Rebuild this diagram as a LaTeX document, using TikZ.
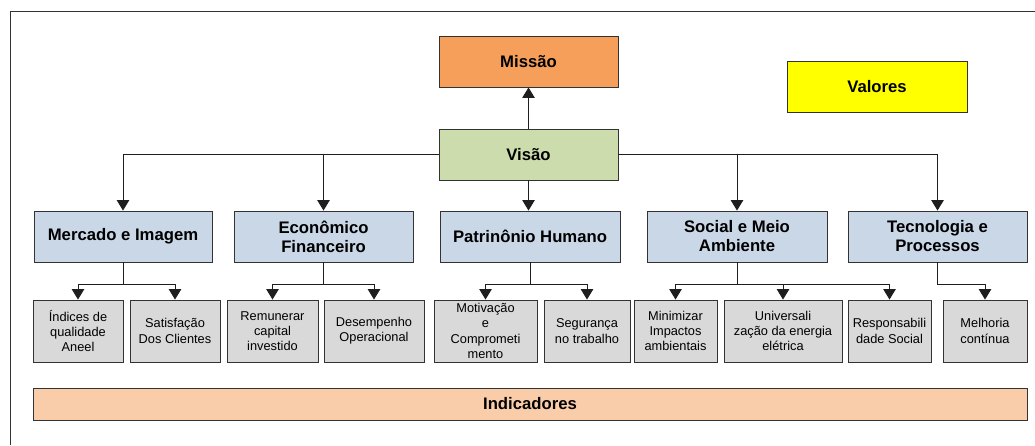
\documentclass[tikz,border=0pt]{standalone}
\usepackage{fontspec}
\setmainfont{Liberation Sans}
\usetikzlibrary{arrows.meta,shadows}

\definecolor{cmissao}{HTML}{F69F5B}
\definecolor{cvisao}{HTML}{CCDCAC}
\definecolor{cvalores}{HTML}{FFFF00}
\definecolor{ccat}{HTML}{C9D7E7}
\definecolor{csub}{HTML}{D9D9D9}
\definecolor{cind}{HTML}{F9CDAA}
\definecolor{cedge}{HTML}{333333}
\definecolor{cline}{HTML}{1E1E1E}

\tikzset{
  box/.style={draw=cedge, line width=0.9pt, inner sep=0pt, align=center,
    drop shadow={shadow xshift=0.8pt, shadow yshift=-0.8pt, fill=black!55, opacity=1}},
  bigbox/.style={box, font=\fontsize{16.7}{19}\selectfont\bfseries},
  subbox/.style={box, fill=csub, minimum height=62pt,
    font=\fontsize{12.8}{15.2}\selectfont},
  catbox/.style={bigbox, fill=ccat, minimum height=51pt},
  conn/.style={draw=cline, line width=1pt,
    -{Triangle[width=12.5pt,length=10.5pt]}},
}

\begin{document}
\begin{tikzpicture}[x=1pt,y=-1pt]
\useasboundingbox (0,0) rectangle (1035,445);
\fill[white] (0,0) rectangle (1035,445);

% outer frame
\draw[cedge, line width=0.9pt] (10,445) -- (10,11) -- (1035,11);

% top level
\node[bigbox, fill=cmissao, minimum width=179pt, minimum height=51pt] (missao) at (528.5,61.5) {Missão};
\node[bigbox, fill=cvisao, minimum width=179pt, minimum height=51pt] (visao) at (528.5,154.5) {Visão};
\node[bigbox, fill=cvalores, minimum width=180pt, minimum height=51pt] (valores) at (877,86.5) {Valores};

% perspectives
\node[catbox, minimum width=178pt] (merc) at (123,236.5) {Mercado e Imagem};
\node[catbox, minimum width=179pt] (econ) at (323.5,236.5) {Econômico\\Financeiro};
\node[catbox, minimum width=180pt] (patr) at (530,236.5) {Patrinônio Humano};
\node[catbox, minimum width=180pt] (soc) at (737,236.5) {Social e Meio\\Ambiente};
\node[catbox, minimum width=179pt] (tec) at (937.5,236.5) {Tecnologia e\\Processos};

% objectives
\node[subbox, minimum width=90pt] (ind) at (78,331) {Índices de\\qualidade\\Aneel};
\node[subbox, minimum width=90pt] (sat) at (175,331) {Satisfação\\Dos Clientes};
\node[subbox, minimum width=91pt] (rem) at (272.5,331) {Remunerar\\capital\\investido};
\node[subbox, minimum width=100pt] (des) at (374,331) {Desempenho\\Operacional};
\node[subbox, minimum width=103pt] (mot) at (485.5,331) {Motivação\\e\\Comprometi\\mento};
\node[subbox, minimum width=86pt] (seg) at (587,331) {Segurança\\no trabalho};
\node[subbox, minimum width=83pt] (min) at (675.5,331) {Minimizar\\Impactos\\ambientais};
\node[subbox, minimum width=118pt] (uni) at (783,331) {Universali\\zação da energia\\elétrica};
\node[subbox, minimum width=83pt] (res) at (889.5,331) {Responsabili\\dade Social};
\node[subbox, minimum width=84pt] (mel) at (985,331) {Melhoria\\contínua};

% indicators bar
\node[bigbox, fill=cind, minimum width=994pt, minimum height=32pt] (indic) at (530,404) {Indicadores};

% connectors from the vision
\draw[conn] (visao.north) -- (missao.south);
\draw[conn] (visao.west) -| (merc.north);
\draw[conn] (visao.west) -| (econ.north);
\draw[conn] (visao.south) -- (visao.south |- patr.north);
\draw[conn] (visao.east) -| (soc.north);
\draw[conn] (visao.east) -| (tec.north);

% connectors to the objectives
\foreach \p/\c in {merc/ind, merc/sat, econ/rem, econ/des, patr/mot, patr/seg,
                   soc/min, soc/uni, soc/res, tec/mel}
  \draw[conn] (\p.south) -- ++(0,22) -| (\c.north);
\end{tikzpicture}
\end{document}
